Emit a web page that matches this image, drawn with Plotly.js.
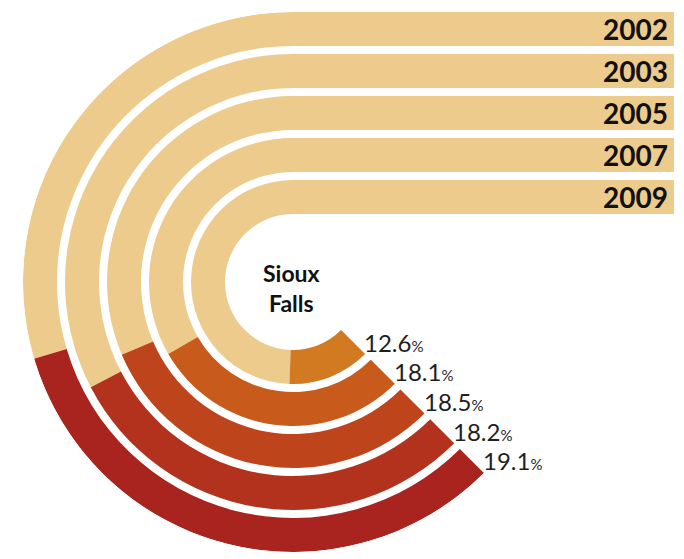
<!DOCTYPE html>
<html>
<head>
<meta charset="utf-8">
<script src="https://cdn.plot.ly/plotly-3.0.1.min.js"></script>
<style>html,body{margin:0;padding:0;background:#fff;}#chart{width:684px;height:559px;}</style>
</head>
<body>
<div id="chart"></div>
<script>
// ---- data ----
const years = ['2002', '2003', '2005', '2007', '2009'];
const shares = [19.1, 18.2, 18.5, 18.1, 12.6];            // printed percentages
const shareArcDeg = [118.5, 107.5, 112, 105, 47];        // angular extent of the coloured arc as drawn
const cityLines = ['Sioux', 'Falls'];

// ---- styling / geometry ----
const W = 684, H = 559;
const CX = 293, CY = 282;          // centre of the rings in page pixels
const ROUT = 270;                  // outer radius of the outermost ring
const THICK = 34, PITCH = 42;      // ring thickness and spacing
const ARC_START = 90, ARC_END = 315;
const BAR_RIGHT = 674;
const TAN = '#EDCB8C';
const SHARE_COLORS = ['#A9241F', '#B2321E', '#BD441B', '#C85A1B', '#D27A22'];
const FONT = 'Lato, "Open Sans", sans-serif';

const innerR = years.map((y, i) => ROUT - THICK - i * PITCH);
const midR = innerR.map(r => r + THICK / 2);

// straight (cartesian) parts of the bands
const straight = {
  type: 'bar', orientation: 'h',
  y: midR, x: years.map(() => BAR_RIGHT - CX + 1), base: years.map(() => -1),
  width: years.map(() => THICK),
  marker: {color: TAN, line: {width: 0}},
  xaxis: 'x', yaxis: 'y', hoverinfo: 'skip', showlegend: false
};

// curved tan parts
const colourStart = shareArcDeg.map(d => ARC_END - d);
const tanArc = {
  type: 'barpolar', subplot: 'polar',
  r: years.map(() => THICK), base: innerR,
  theta: colourStart.map(s => (ARC_START + s) / 2),
  width: colourStart.map(s => s - ARC_START),
  marker: {color: TAN, line: {width: 0}},
  hoverinfo: 'skip', showlegend: false
};
// coloured share parts
const shareArc = {
  type: 'barpolar', subplot: 'polar',
  r: years.map(() => THICK), base: innerR,
  theta: shareArcDeg.map(d => ARC_END - d / 2),
  width: shareArcDeg,
  marker: {color: SHARE_COLORS, line: {width: 0}},
  hoverinfo: 'skip', showlegend: false
};

const ann = [];
years.forEach((y, i) => {
  ann.push({
    x: BAR_RIGHT - CX - 4, y: midR[i], xref: 'x', yref: 'y',
    text: y, showarrow: false, xanchor: 'right', yanchor: 'middle',
    font: {family: FONT, size: 28, color: '#111', weight: 700}
  });
  const a = ARC_END * Math.PI / 180;
  ann.push({
    x: midR[i] * Math.cos(a) + 9, y: midR[i] * Math.sin(a), xref: 'x', yref: 'y',
    text: shares[i].toFixed(1) + '<span style="font-size:15px">%</span>',
    showarrow: false, xanchor: 'left', yanchor: 'middle',
    font: {family: FONT, size: 24, color: '#1e1e1e'}
  });
});
ann.push({
  x: -2, y: -6, xref: 'x', yref: 'y', text: cityLines.join('<br>'),
  showarrow: false, xanchor: 'center', yanchor: 'middle',
  font: {family: FONT, size: 23, color: '#111', weight: 700}
});

const layout = {
  width: W, height: H, margin: {l: 0, r: 0, t: 0, b: 0},
  paper_bgcolor: '#fff', plot_bgcolor: 'rgba(0,0,0,0)',
  showlegend: false,
  xaxis: {domain: [0, 1], range: [-CX, W - CX], visible: false, fixedrange: true},
  yaxis: {domain: [0, 1], range: [-(H - CY), CY], visible: false, fixedrange: true},
  polar: {
    domain: {x: [(CX - ROUT) / W, (CX + ROUT) / W], y: [(H - CY - ROUT) / H, (H - CY + ROUT) / H]},
    bgcolor: 'rgba(0,0,0,0)',
    radialaxis: {range: [0, ROUT], visible: false, showgrid: false, showline: false, showticklabels: false, ticks: ''},
    angularaxis: {visible: false, rotation: 0, direction: 'counterclockwise', showgrid: false, showline: false, showticklabels: false, ticks: ''},
    hole: 0
  },
  annotations: ann
};

Plotly.newPlot('chart', [straight, tanArc, shareArc], layout, {staticPlot: true, displayModeBar: false});
</script>
</body>
</html>
